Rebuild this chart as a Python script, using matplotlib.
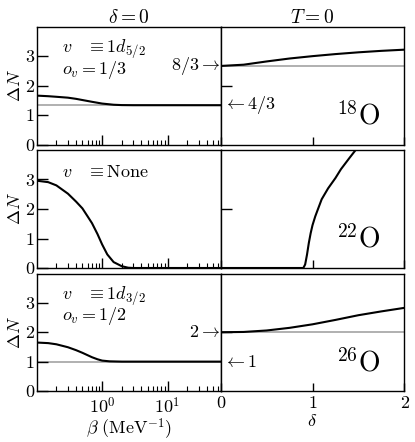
import matplotlib
matplotlib.use("Agg")
import matplotlib.pyplot as plt
import numpy as np

plt.rcParams['mathtext.fontset'] = 'cm'
plt.rcParams['font.family'] = 'serif'
plt.rcParams['font.serif'] = ['cmr10', 'DejaVu Serif']
plt.rcParams['axes.formatter.use_mathtext'] = True

# delta = 0 column, beta in MeV^-1
beta_18 = [0.1, 0.15, 0.2, 0.3, 0.4, 0.5, 0.7, 1.0, 1.5, 2.0, 3.0, 65]
dn_18_beta = [1.66, 1.64, 1.62, 1.59, 1.55, 1.51, 1.45, 1.39, 1.35, 1.338, 1.334, 1.3333]

beta_22 = [0.1, 0.15, 0.2, 0.3, 0.4, 0.5, 0.6, 0.7, 0.85, 1.0, 1.2, 1.5, 2.0, 2.5, 3.0, 65]
dn_22_beta = [2.96, 2.91, 2.80, 2.52, 2.25, 2.02, 1.75, 1.52, 1.15, 0.80, 0.46, 0.20, 0.06, 0.01, 0.0, 0.0]

beta_26 = [0.1, 0.15, 0.2, 0.3, 0.4, 0.5, 0.7, 0.85, 1.0, 1.3, 2.0, 65]
dn_26_beta = [1.65, 1.63, 1.59, 1.49, 1.39, 1.30, 1.15, 1.08, 1.035, 1.01, 1.0, 1.0]

# T = 0 column, delta
delta_18 = [0, 0.25, 0.5, 0.75, 1.0, 1.25, 1.5, 1.75, 2.0]
dn_18_delta = [2.667, 2.71, 2.82, 2.92, 3.00, 3.07, 3.13, 3.18, 3.22]

delta_22 = [0, 0.90, 0.92, 0.94, 0.96, 0.98, 1.0, 1.03, 1.06, 1.1, 1.17, 1.25, 1.31, 1.4, 1.47, 1.55]
dn_22_delta = [0, 0, 0.12, 0.45, 0.85, 1.18, 1.45, 1.75, 2.0, 2.33, 2.70, 3.05, 3.35, 3.72, 4.0, 4.3]

delta_26 = [0, 0.25, 0.5, 0.75, 1.0, 1.25, 1.5, 1.75, 2.0]
dn_26_delta = [2.0, 2.01, 2.06, 2.15, 2.27, 2.42, 2.58, 2.71, 2.83]

rows = [
    dict(beta=beta_18, dnb=dn_18_beta, delta=delta_18, dnd=dn_18_delta,
         ref_left=4/3, ref_right=8/3, lab_left='4/3', lab_right='8/3',
         v=r'$v\quad\equiv 1d_{5/2}$', o=r'$o_v = 1/3$', iso='18'),
    dict(beta=beta_22, dnb=dn_22_beta, delta=delta_22, dnd=dn_22_delta,
         ref_left=None, ref_right=None, lab_left=None, lab_right=None,
         v=r'$v\quad\equiv \mathrm{None}$', o=None, iso='22'),
    dict(beta=beta_26, dnb=dn_26_beta, delta=delta_26, dnd=dn_26_delta,
         ref_left=1, ref_right=2, lab_left='1', lab_right='2',
         v=r'$v\quad\equiv 1d_{3/2}$', o=r'$o_v = 1/2$', iso='26'),
]

W, H = 415, 442
fig = plt.figure(figsize=(W / 100, H / 100), dpi=100)

x_left, x_mid, x_right = 36.7, 220.7, 404.3
row_px = [(26.7, 144.5), (150.0, 268.0), (273.5, 391.0)]

gray = '#b0b0b0'
fs = 13

for i, (r, (top, bot)) in enumerate(zip(rows, row_px)):
    axl = fig.add_axes([x_left / W, 1 - bot / H, (x_mid - x_left) / W, (bot - top) / H])
    axr = fig.add_axes([x_mid / W, 1 - bot / H, (x_right - x_mid) / W, (bot - top) / H])

    # left: beta
    if r['ref_left'] is not None:
        axl.axhline(r['ref_left'], color=gray, lw=1.4, zorder=1)
    axl.plot(r['beta'], r['dnb'], color='k', lw=1.5, zorder=2)
    axl.set_xscale('log')
    axl.set_xlim(0.1, 65)
    axl.set_ylim(0, 4)
    axl.set_yticks([0, 1, 2, 3])
    axl.set_yticklabels(['0', '1', '2', '3'], fontsize=fs)
    axl.set_xticks([1, 10])
    axl.set_xticks([k * 10.0 ** e for e in (-1, 0, 1) for k in range(2, 10)
                    if 0.1 < k * 10.0 ** e < 65], minor=True)
    axl.tick_params(which='both', direction='in', top=False, right=False)
    axl.tick_params(which='major', length=7, width=1)
    axl.tick_params(which='minor', length=3.5, width=0.8)
    axl.tick_params(axis='y', which='major', length=8, pad=2)
    axl.set_ylabel(r'$\Delta N$', fontsize=fs, labelpad=1)
    if i == 2:
        axl.set_xticklabels([r'$10^0$', r'$10^1$'], fontsize=fs)
        axl.set_xlabel(r'$\beta\ (\mathrm{MeV}^{-1})$', fontsize=fs, labelpad=0)
    else:
        axl.set_xticklabels([])
    axl.text(0.14, 0.81, r['v'], transform=axl.transAxes, fontsize=fs,
             ha='left', va='center')
    if r['o'] is not None:
        axl.text(0.14, 0.635, r['o'], transform=axl.transAxes, fontsize=fs,
                 ha='left', va='center')
    if r['lab_right'] is not None:
        axl.text(63, r['ref_right'], r'$%s\rightarrow$' % r['lab_right'], fontsize=fs,
                 ha='right', va='center')

    # right: delta
    if r['ref_right'] is not None:
        axr.axhline(r['ref_right'], color=gray, lw=1.4, zorder=1)
    axr.plot(r['delta'], r['dnd'], color='k', lw=1.5, zorder=2)
    axr.set_xlim(0, 2)
    axr.set_ylim(0, 4)
    axr.set_yticks([2])
    axr.set_yticklabels([])
    axr.set_xticks([0, 1, 2])
    axr.tick_params(which='both', direction='in', top=False, right=False)
    axr.tick_params(axis='x', length=6, width=1)
    axr.tick_params(axis='y', length=8, width=1)
    if i == 2:
        axr.set_xticklabels(['0', '1', '2'], fontsize=fs)
        axr.set_xlabel(r'$\delta$', fontsize=fs, labelpad=1)
    else:
        axr.set_xticklabels([])
    if r['lab_left'] is not None:
        axr.text(0.03, r['ref_left'], r'$\leftarrow %s$' % r['lab_left'], fontsize=fs,
                 ha='left', va='center')
    axr.text(0.75, 0.24, r'$^{%s}\mathrm{O}$' % r['iso'], transform=axr.transAxes,
             fontsize=20, ha='center', va='center')

    for ax in (axl, axr):
        for s in ax.spines.values():
            s.set_linewidth(1.0)

    if i == 0:
        axl.set_title(r'$\delta = 0$', fontsize=14, pad=3)
        axr.set_title(r'$T = 0$', fontsize=14, pad=3)

fig.savefig('out.png', dpi=100)
